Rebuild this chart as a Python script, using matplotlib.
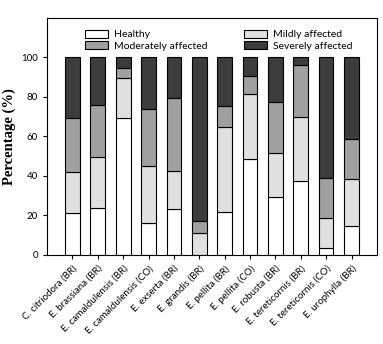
import numpy as np
import matplotlib
matplotlib.use("Agg")
import matplotlib.pyplot as plt

species = ["C. citriodora (BR)", "E. brassiana (BR)", "E. camaldulensis (BR)",
           "E. camaldulensis (CO)", "E. exserta (BR)", "E. grandis (BR)",
           "E. pellita (BR)", "E. pellita (CO)", "E. robusta (BR)",
           "E. tereticornis (BR)", "E. tereticornis (CO)", "E. urophylla (BR)"]

# cumulative tops
healthy = [21, 23.5, 69.5, 16, 23, 0, 21.5, 48.8, 29.5, 37.4, 3.4, 14.6]
mild_top = [42, 49.6, 89.7, 45, 42.6, 11.3, 64.8, 81.3, 51.7, 69.9, 18.9, 38.2]
moderate_top = [69.5, 76, 94.4, 74, 79.5, 17.3, 75.3, 90.4, 77.4, 96.3, 38.7, 58.6]

healthy = np.array(healthy)
mild = np.array(mild_top) - healthy
moderate = np.array(moderate_top) - np.array(mild_top)
severe = 100 - np.array(moderate_top)

plt.rcParams['font.family'] = ['Lato', 'DejaVu Sans']

fig = plt.figure(figsize=(3.83, 3.44), dpi=100)
ax = fig.add_axes([0.123, 0.259, 0.861, 0.689])

x = np.arange(1, len(species) + 1)
w = 0.58
kw = dict(width=w, edgecolor="black", linewidth=0.8)
ax.bar(x, healthy, color="white", label="Healthy", **kw)
ax.bar(x, mild, bottom=healthy, color="#e0e0e0", label="Mildly affected", **kw)
ax.bar(x, moderate, bottom=mild_top, color="#a0a0a0", label="Moderately affected", **kw)
ax.bar(x, severe, bottom=moderate_top, color="#3c3c3c", label="Severely affected", **kw)

ax.set_xlim(0, 13)
ax.set_ylim(0, 120)
ax.set_yticks([0, 20, 40, 60, 80, 100])
ax.set_xticks(x)
ax.set_xticklabels(species, rotation=45, ha="right", rotation_mode="anchor", fontsize=7)
ax.tick_params(axis="both", labelsize=7, length=3, width=0.8)
ax.set_ylabel("Percentage (%)", fontsize=10.5, fontweight="bold", family="Liberation Serif")
for s in ax.spines.values():
    s.set_linewidth(0.8)

handles, labels = ax.get_legend_handles_labels()
order = [0, 2, 1, 3]
ax.legend([handles[i] for i in order], [labels[i] for i in order],
          ncol=2, loc="upper center", bbox_to_anchor=(0.52, 0.99), frameon=False,
          fontsize=7.5, handlelength=2.2, handleheight=0.8, columnspacing=3.5,
          labelspacing=0.2, handletextpad=0.6)

fig.savefig("out.png", dpi=100)
